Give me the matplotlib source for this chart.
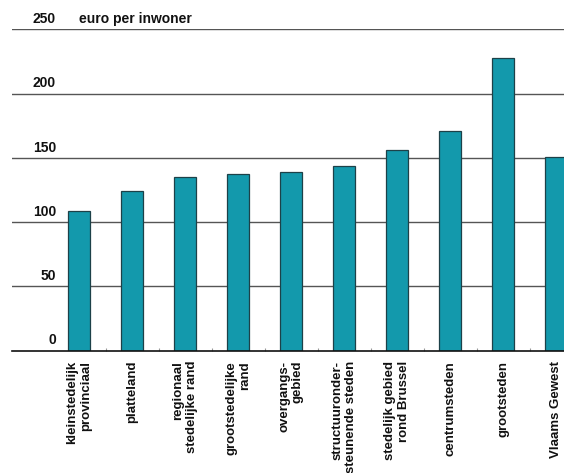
import matplotlib
matplotlib.use("Agg")
import matplotlib.pyplot as plt
import matplotlib.transforms as mtransforms
from matplotlib import font_manager
import numpy as np

categories = ["kleinstedelijk\nprovinciaal", "platteland", "regionaal\nstedelijke rand",
              "grootstedelijke\nrand", "overgangs-\ngebied", "structuuronder-\nsteunende steden",
              "stedelijk gebied\nrond Brussel", "centrumsteden", "grootsteden", "Vlaams Gewest"]
values = [109, 124, 135, 137.5, 139, 144, 156, 171, 227.5, 150.5]
yticks = [0, 50, 100, 150, 200, 250]
unit_label = "euro per inwoner"

names = {f.name for f in font_manager.fontManager.ttflist}
fam = "Liberation Sans Narrow" if "Liberation Sans Narrow" in names else "Liberation Sans"
plt.rcParams['font.family'] = [fam, 'DejaVu Sans']

W, H = 564, 473
fig = plt.figure(figsize=(W/100, H/100), dpi=100)
left, right, top, bottom = 12, 564, 29.3, 350.7
ax = fig.add_axes([left/W, 1-bottom/H, (right-left)/W, (bottom-top)/H])

x = np.arange(len(categories))
ax.bar(x, values, width=0.42, color="#1399ac", edgecolor="#1d4148", linewidth=0.9, zorder=3)
ax.set_ylim(0, 250)
ax.set_xlim(-1.264, 9.15)

for t in yticks[1:]:
    ax.axhline(t, color="#555555", lw=1.0, zorder=1)
for s in ["top", "right", "left"]:
    ax.spines[s].set_visible(False)
ax.spines["bottom"].set_color("#111111")
ax.spines["bottom"].set_linewidth(1.2)
ax.spines["bottom"].set_zorder(4)

ax.set_yticks([])
ax.set_xticks(x)
ax.set_xticklabels([])
ax.tick_params(axis="x", length=0)
ax.set_xticks(x[:-1] + 0.5, minor=True)
ax.tick_params(axis="x", which="minor", direction="in", length=2, color="#999999", width=0.8)

trans = mtransforms.blended_transform_factory(fig.transFigure, ax.transData)
for t in yticks:
    ax.text(56/W, t + 2.5, str(t), transform=trans, ha="right", va="bottom",
            fontsize=10, fontweight="bold", color="#111111")
ax.text(79/W, 252.5, unit_label, transform=trans, ha="left", va="bottom",
        fontsize=10, fontweight="bold", color="#111111")

for xi, lab in zip(x, categories):
    ax.text(xi, -8, lab, rotation=90, ha="center", va="top", multialignment="right",
            fontsize=9.5, fontweight="bold", color="#111111", linespacing=1.15, clip_on=False)

fig.savefig("out.png", dpi=100)
